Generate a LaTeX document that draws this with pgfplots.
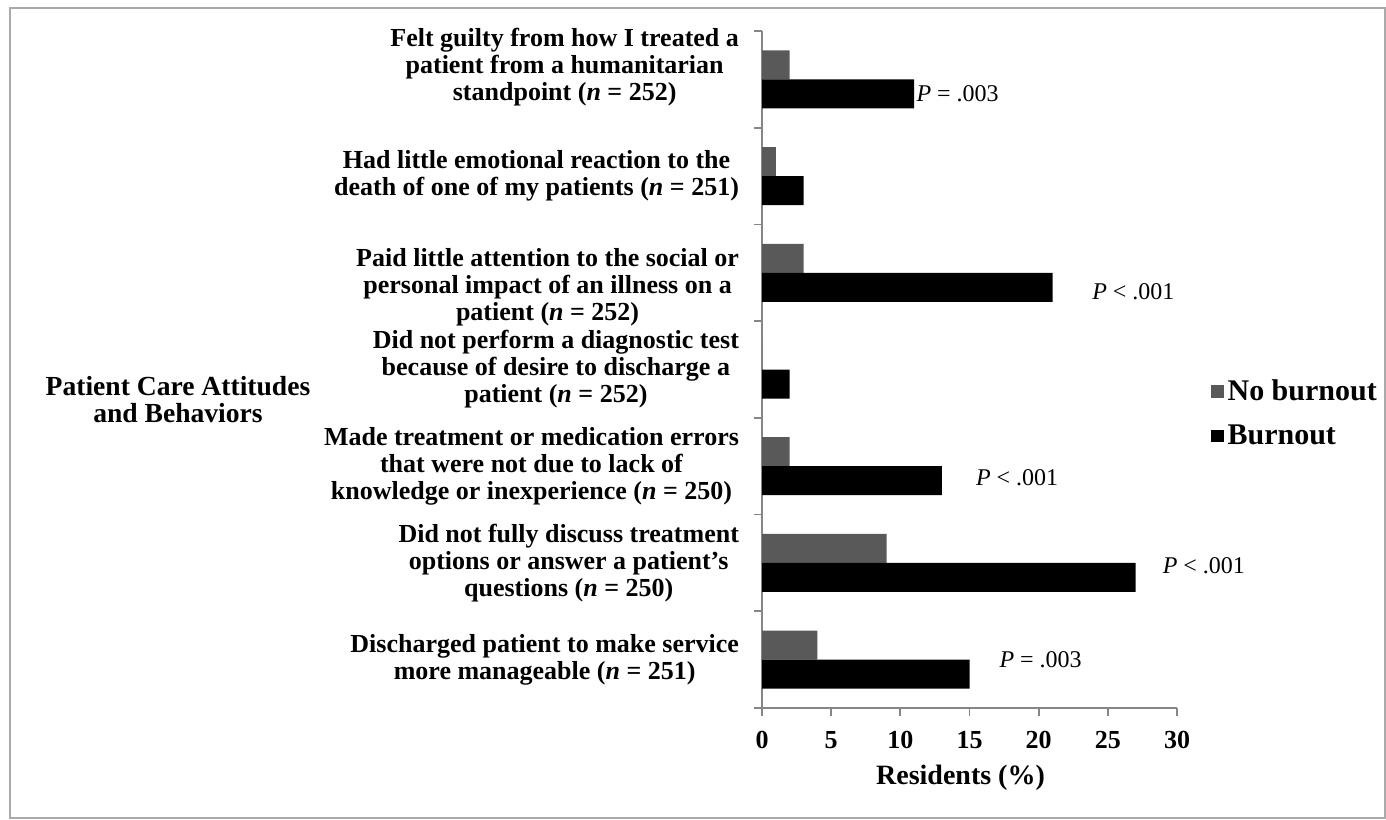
\documentclass[border=0pt]{standalone}
\usepackage{pgfplots}
\pgfplotsset{compat=1.18}
\usepackage{fontspec}
\setmainfont{Liberation Serif}
\definecolor{nob}{HTML}{595959}
\definecolor{axgray}{HTML}{868686}
\newcommand{\lbl}{\bfseries\fontsize{13}{13.5}\selectfont}
\newcommand{\pv}{\fontsize{12}{13.5}\selectfont}
\begin{document}
\begin{tikzpicture}
\useasboundingbox (0,0) rectangle (693pt,-409.5pt);
\draw[axgray!70, line width=0.9pt] (5pt,-4pt) rectangle (692.5pt,-409pt);
\node[font=\bfseries\fontsize{13.8}{13.5}\selectfont, align=center] at (89pt,-200pt) {Patient Care Attitudes\\and Behaviors};
\begin{axis}[
  at={(381pt,-354pt)}, anchor=south west,
  scale only axis, width=207.5pt, height=338.5pt,
  xmin=0, xmax=30, ymin=-0.5, ymax=6.5,
  axis lines*=left,
  axis line style={axgray, line width=0.9pt},
  clip=false,
  tick align=outside,
  xtick={0,5,...,30},
  x tick style={axgray, line width=0.9pt},
  major tick length=4pt,
  /pgf/number format/assume math mode=true,
  x tick label style={font=\bfseries\fontsize{13}{13.5}\selectfont, yshift=-4pt},
  ytick={0,1,2,3,3.85,5,6.13},
  y tick style={draw=none},
  yticklabels={
    {Discharged patient to make service\\more manageable (\textit{n} = 251)},
    {Did not fully discuss treatment\\options or answer a patient's\\questions (\textit{n} = 250)},
    {Made treatment or medication errors\\that were not due to lack of\\knowledge or inexperience (\textit{n} = 250)},
    {Did not perform a diagnostic test\\because of desire to discharge a\\patient (\textit{n} = 252)},
    {Paid little attention to the social or\\personal impact of an illness on a\\patient (\textit{n} = 252)},
    {Had little emotional reaction to the\\death of one of my patients (\textit{n} = 251)},
    {Felt guilty from how I treated a\\patient from a humanitarian\\standpoint (\textit{n} = 252)}},
  y tick label style={font=\lbl, align=center, xshift=-4pt},
  extra y ticks={-0.5,0.5,1.5,2.5,3.5,4.5,5.5,6.5},
  extra y tick labels={},
  extra y tick style={y tick style={draw=axgray, line width=0.9pt}, major tick length=4pt},
  xlabel={Residents (\%)},
  xlabel style={font=\bfseries\fontsize{14}{14}\selectfont, anchor=center, at={(axis description cs:0.5,0)}, yshift=-35pt, xshift=-4.5pt},
  legend style={at={(1.08,0.435)}, anchor=west, draw=none, fill=none,
    font=\bfseries\fontsize{15}{15}\selectfont, row sep=6.5pt,
    legend cell align=left, inner xsep=0pt},
  legend image code/.code={\fill[#1] (0pt,-3.2pt) rectangle (6.5pt,3.2pt);},
]
\addplot[xbar, bar width=0.3, bar shift=0.15, fill=nob, draw=none]
  coordinates {(4,0) (9,1) (2,2) (0,3) (3,4) (1,5) (2,6)};
\addlegendentry{No burnout}
\addplot[xbar, bar width=0.3, bar shift=-0.15, fill=black, draw=none]
  coordinates {(15,0) (27,1) (13,2) (2,3) (21,4) (3,5) (11,6)};
\addlegendentry{Burnout}
\node[anchor=west, inner sep=1pt, font=\pv] at (axis cs:11,5.85) {\textit{P} = .003};
\node[anchor=west, inner sep=1pt, font=\pv] at (axis cs:23.7,3.8) {\textit{P} < .001};
\node[anchor=west, inner sep=1pt, font=\pv] at (axis cs:15.3,1.88) {\textit{P} < .001};
\node[anchor=west, inner sep=1pt, font=\pv] at (axis cs:28.8,0.97) {\textit{P} < .001};
\node[anchor=west, inner sep=1pt, font=\pv] at (axis cs:17.0,0.0) {\textit{P} = .003};
\end{axis}
\end{tikzpicture}
\end{document}
